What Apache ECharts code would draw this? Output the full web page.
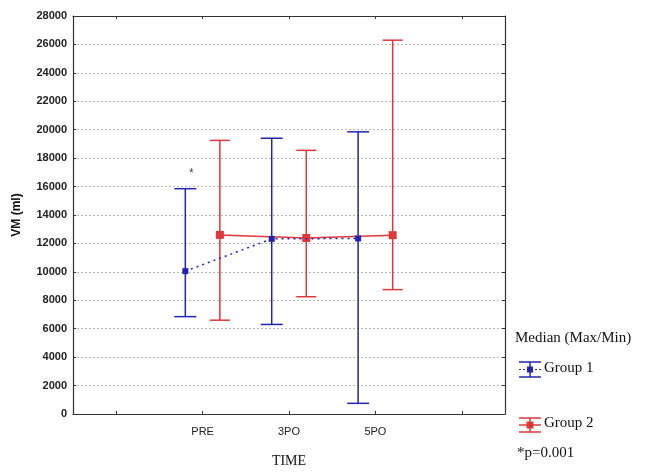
<!DOCTYPE html>
<html>
<head>
<meta charset="utf-8">
<script src="https://cdn.jsdelivr.net/npm/echarts@6/dist/echarts.min.js"></script>
<style>
  html, body { margin: 0; padding: 0; background: #fff; }
  #chart { width: 652px; height: 473px; }
</style>
</head>
<body>
<div id="chart"></div>
<script>
    // categories on the x axis (first and last are empty slots)
    var categories = ['', 'PRE', '3PO', '5PO', ''];
    var timeIdx = [1, 2, 3];

    // Group 1 (blue)
    var g1Median = [10050, 12320, 12350];
    var g1Max = [15850, 19400, 19850];
    var g1Min = [6850, 6300, 750];

    // Group 2 (red)
    var g2Median = [12600, 12380, 12580];
    var g2Max = [19250, 18550, 26300];
    var g2Min = [6600, 8250, 8750];

    // significance marker above Group 1 at PRE
    var starValue = [16900];

    var blue = '#2424b0';
    var red = '#e0383a';
    var shift = 0.2;

    function medianData(med, off) {
        return med.map(function (v, i) { return [timeIdx[i] + off, v]; });
    }
    function barData(mn, mx, off) {
        return mn.map(function (v, i) { return [timeIdx[i] + off, v, mx[i]]; });
    }
    function errorBar(color, cap) {
        return function (params, api) {
            var lo = api.coord([api.value(0), api.value(1)]);
            var hi = api.coord([api.value(0), api.value(2)]);
            var st = { stroke: color, lineWidth: 1.5 };
            return {
                type: 'group',
                children: [
                    { type: 'line', shape: { x1: lo[0], y1: lo[1], x2: hi[0], y2: hi[1] }, style: st },
                    { type: 'line', shape: { x1: lo[0] - cap, y1: lo[1], x2: lo[0] + cap, y2: lo[1] }, style: st },
                    { type: 'line', shape: { x1: hi[0] - cap, y1: hi[1], x2: hi[0] + cap, y2: hi[1] }, style: st }
                ]
            };
        };
    }

    var myChart = echarts.init(document.getElementById('chart'));
    var axisLine = { show: true, onZero: false, lineStyle: { color: '#333', width: 1.2 } };
    var tick = { show: true, inside: true, length: 3, lineStyle: { color: '#333' } };
    var option = {
        animation: false,
        grid: { left: 73, right: 147, top: 16, bottom: 56 },
        xAxis: [
            {
                type: 'category',
                data: categories,
                position: 'bottom',
                axisLine: axisLine,
                axisTick: { show: true, inside: true, length: 3, alignWithLabel: true, lineStyle: { color: '#333' } },
                axisLabel: { color: '#222', fontFamily: 'Liberation Sans Narrow, Liberation Sans, Arial', fontSize: 11, margin: 12 },
                name: 'TIME',
                nameLocation: 'middle',
                nameGap: 40,
                nameTextStyle: { fontFamily: 'Liberation Serif, Times New Roman, serif', fontSize: 14, color: '#111' }
            },
            {
                type: 'category',
                data: categories,
                position: 'top',
                axisLine: axisLine,
                axisTick: { show: true, inside: true, length: 3, alignWithLabel: true, lineStyle: { color: '#333' } },
                axisLabel: { show: false }
            },
            {
                type: 'value',
                min: -0.5,
                max: 4.5,
                show: false
            }
        ],
        yAxis: [
            {
                type: 'value',
                min: 0,
                max: 28000,
                interval: 2000,
                axisLine: axisLine,
                axisTick: tick,
                axisLabel: {
                    color: '#222', fontFamily: 'Liberation Sans Narrow, Liberation Sans, Arial', fontSize: 11, fontWeight: 'bold', margin: 6,
                    formatter: function (v) { return String(v); }
                },
                splitLine: { show: true, lineStyle: { color: '#b8b8b8', type: [2, 2], width: 1 } },
                name: 'VM (ml)',
                nameLocation: 'middle',
                nameRotate: 90,
                nameGap: 50,
                nameTextStyle: { fontFamily: 'Liberation Sans, Arial', fontSize: 12, fontWeight: 'bold', color: '#111' }
            },
            {
                type: 'value',
                min: 0,
                max: 28000,
                interval: 2000,
                position: 'right',
                axisLine: axisLine,
                axisTick: tick,
                axisLabel: { show: false },
                splitLine: { show: false }
            }
        ],
        series: [
            {
                name: 'Group 1 range',
                type: 'custom',
                xAxisIndex: 2,
                renderItem: errorBar(blue, 11),
                data: barData(g1Min, g1Max, -shift),
                z: 2
            },
            {
                name: 'Group 2 range',
                type: 'custom',
                xAxisIndex: 2,
                renderItem: errorBar(red, 10),
                data: barData(g2Min, g2Max, shift),
                z: 2
            },
            {
                name: 'Group 2',
                type: 'line',
                xAxisIndex: 2,
                data: medianData(g2Median, shift),
                symbol: 'rect',
                symbolSize: 8,
                itemStyle: { color: red },
                lineStyle: { color: red, width: 1.5 },
                z: 3
            },
            {
                name: 'Group 1',
                type: 'line',
                xAxisIndex: 2,
                data: medianData(g1Median, -shift),
                symbol: 'rect',
                symbolSize: 6,
                itemStyle: { color: blue },
                lineStyle: { color: blue, width: 1.5, type: [2, 4] },
                z: 4
            },
            {
                name: 'p',
                type: 'scatter',
                xAxisIndex: 2,
                data: starValue.map(function (v, i) { return [timeIdx[i] - shift + 0.07, v]; }),
                symbolSize: 1,
                itemStyle: { color: 'rgba(0,0,0,0)' },
                label: { show: true, position: 'inside', formatter: '*', color: '#111', fontSize: 12, fontFamily: 'Liberation Sans, Arial' },
                z: 5
            }
        ],
        graphic: [
            { type: 'text', left: 515, top: 331, style: { text: 'Median (Max/Min)', font: '15px "Liberation Serif", serif', fill: '#111' } },
            // Group 1 legend icon
            { type: 'line', shape: { x1: 519, y1: 362, x2: 541, y2: 362 }, style: { stroke: blue, lineWidth: 1.5 } },
            { type: 'line', shape: { x1: 519, y1: 377, x2: 541, y2: 377 }, style: { stroke: blue, lineWidth: 1.5 } },
            { type: 'line', shape: { x1: 530, y1: 362, x2: 530, y2: 377 }, style: { stroke: blue, lineWidth: 1.5 } },
            { type: 'line', shape: { x1: 519, y1: 369.5, x2: 541, y2: 369.5 }, style: { stroke: blue, lineWidth: 1, lineDash: [2, 2] } },
            { type: 'rect', shape: { x: 527, y: 366.5, width: 6, height: 6 }, style: { fill: blue } },
            { type: 'text', left: 544, top: 361, style: { text: 'Group 1', font: '15px "Liberation Serif", serif', fill: '#111' } },
            // Group 2 legend icon
            { type: 'line', shape: { x1: 519, y1: 418, x2: 541, y2: 418 }, style: { stroke: red, lineWidth: 1.5 } },
            { type: 'line', shape: { x1: 519, y1: 432, x2: 541, y2: 432 }, style: { stroke: red, lineWidth: 1.5 } },
            { type: 'line', shape: { x1: 530, y1: 418, x2: 530, y2: 432 }, style: { stroke: red, lineWidth: 1.5 } },
            { type: 'line', shape: { x1: 519, y1: 425, x2: 541, y2: 425 }, style: { stroke: red, lineWidth: 1.5 } },
            { type: 'rect', shape: { x: 526.5, y: 421.5, width: 7, height: 7 }, style: { fill: red } },
            { type: 'text', left: 544, top: 416, style: { text: 'Group 2', font: '15px "Liberation Serif", serif', fill: '#111' } },
            { type: 'text', left: 517, top: 446, style: { text: '*p=0.001', font: '15px "Liberation Serif", serif', fill: '#111' } }
        ]
    };
    myChart.setOption(option);
</script>
</body>
</html>
